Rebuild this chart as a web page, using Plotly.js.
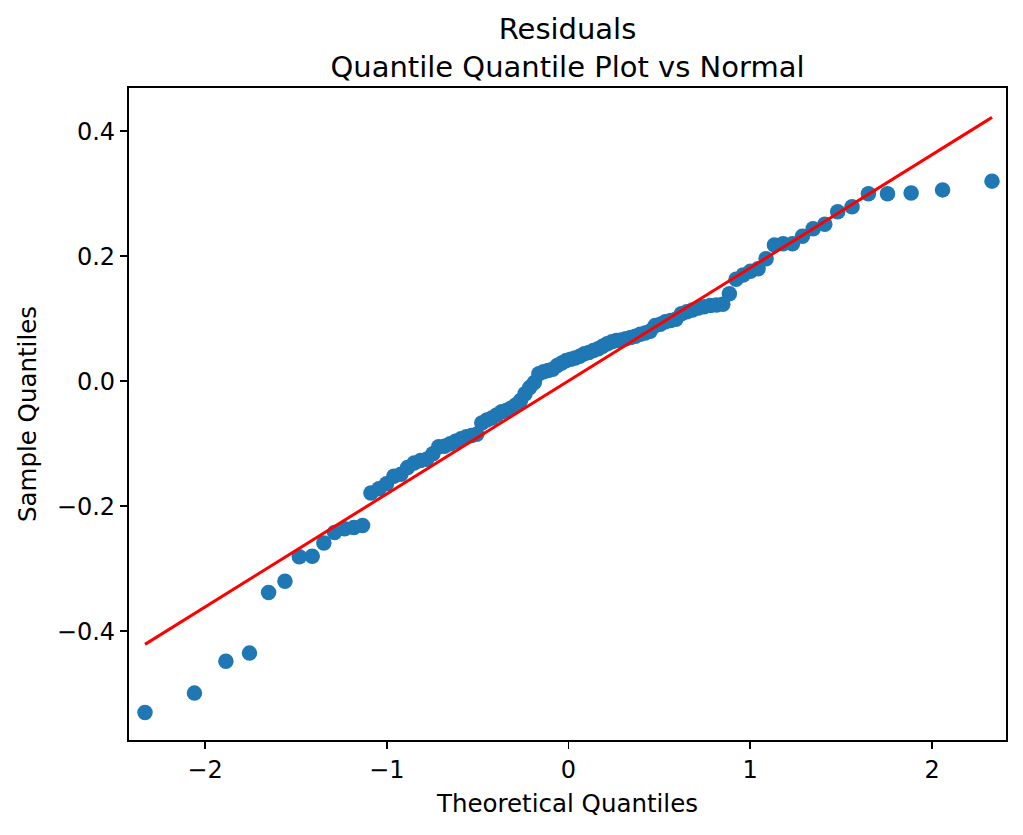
<!DOCTYPE html>
<html>
<head>
<meta charset="utf-8">
<script src="https://cdn.plot.ly/plotly-3.0.1.min.js"></script>
<style>
  html, body { margin: 0; padding: 0; background: #ffffff; }
  #chart { width: 1023px; height: 835px; }
</style>
</head>
<body>
<div id="chart"></div>
<script>
// Theoretical quantiles (n = 100)
const theoreticalQuantiles = [
  -2.330, -2.058, -1.885, -1.755, -1.650, -1.560, -1.481, -1.410, -1.346, -1.287,
  -1.232, -1.181, -1.133, -1.087, -1.043, -1.001, -0.961, -0.922, -0.885, -0.849,
  -0.814, -0.780, -0.746, -0.714, -0.682, -0.651, -0.621, -0.591, -0.562, -0.533,
  -0.505, -0.477, -0.449, -0.422, -0.395, -0.368, -0.342, -0.316, -0.290, -0.264,
  -0.239, -0.213, -0.188, -0.163, -0.137, -0.112, -0.087, -0.062, -0.037, -0.012,
   0.012,  0.037,  0.062,  0.087,  0.112,  0.137,  0.163,  0.188,  0.213,  0.239,
   0.264,  0.290,  0.316,  0.342,  0.368,  0.395,  0.422,  0.449,  0.477,  0.505,
   0.533,  0.562,  0.591,  0.621,  0.651,  0.682,  0.714,  0.746,  0.780,  0.814,
   0.849,  0.885,  0.922,  0.961,  1.001,  1.043,  1.087,  1.133,  1.181,  1.232,
   1.287,  1.346,  1.410,  1.481,  1.560,  1.650,  1.755,  1.885,  2.058,  2.330
];

// Sample quantiles (sorted residuals)
const sampleQuantiles = [
  -0.530, -0.499, -0.448, -0.435, -0.338, -0.320, -0.281, -0.280, -0.259, -0.242,
  -0.236, -0.234, -0.231, -0.179, -0.172, -0.164, -0.152, -0.149, -0.138, -0.131,
  -0.127, -0.125, -0.116, -0.105, -0.104, -0.100, -0.096, -0.092, -0.089, -0.087,
  -0.085, -0.067, -0.062, -0.059, -0.054, -0.049, -0.047, -0.043, -0.038, -0.031,
  -0.020, -0.010, -0.002,  0.012,  0.015,  0.017,  0.019,  0.025,  0.029,  0.033,
   0.035,  0.037,  0.040,  0.044,  0.046,  0.049,  0.052,  0.056,  0.060,  0.063,
   0.065,  0.066,  0.068,  0.070,  0.072,  0.075,  0.077,  0.080,  0.089,  0.091,
   0.095,  0.097,  0.099,  0.108,  0.111,  0.114,  0.117,  0.119,  0.121,  0.122,
   0.123,  0.140,  0.163,  0.170,  0.176,  0.180,  0.196,  0.218,  0.220,  0.220,
   0.232,  0.244,  0.251,  0.271,  0.279,  0.300,  0.300,  0.301,  0.306,  0.320
];

// Reference line endpoints
const lineX = [-2.330, 2.330];
const lineY = [-0.421, 0.422];

const xTicks = [-2, -1, 0, 1, 2];
const xTickLabels = ["\u22122", "\u22121", "0", "1", "2"];
const yTicks = [-0.4, -0.2, 0.0, 0.2, 0.4];
const yTickLabels = ["\u22120.4", "\u22120.2", "0.0", "0.2", "0.4"];

const font = "DejaVu Sans, sans-serif";

const traces = [
  {
    type: "scatter",
    mode: "markers",
    x: theoreticalQuantiles,
    y: sampleQuantiles,
    marker: { color: "#1f77b4", size: 15.5, line: { width: 0 } },
    showlegend: false,
    hoverinfo: "x+y"
  },
  {
    type: "scatter",
    mode: "lines",
    x: lineX,
    y: lineY,
    line: { color: "#ff0000", width: 3 },
    showlegend: false
  }
];

const axisCommon = {
  showgrid: false,
  zeroline: false,
  showline: true,
  linecolor: "#000000",
  linewidth: 1.6,
  mirror: true,
  ticks: "outside",
  ticklen: 7.5,
  tickwidth: 1.6,
  tickcolor: "#000000",
  tickfont: { family: font, size: 24, color: "#000000" },
  automargin: false
};

const layout = {
  width: 1023,
  height: 835,
  paper_bgcolor: "#ffffff",
  plot_bgcolor: "#ffffff",
  margin: { l: 129, r: 17, t: 88, b: 95 },
  title: {
    text: "Residuals<br>Quantile Quantile Plot vs Normal",
    font: { family: font, size: 29, color: "#000000" },
    x: 0.5,
    xref: "paper",
    xanchor: "center",
    y: 0.953,
    yref: "container",
    yanchor: "top"
  },
  xaxis: Object.assign({}, axisCommon, {
    range: [-2.418, 2.407],
    tickmode: "array",
    tickvals: xTicks,
    ticktext: xTickLabels,
    title: { text: "Theoretical Quantiles", font: { family: font, size: 24.5, color: "#000000" }, standoff: 12 }
  }),
  yaxis: Object.assign({}, axisCommon, {
    range: [-0.574, 0.469],
    tickmode: "array",
    tickvals: yTicks,
    ticktext: yTickLabels,
    title: { text: "Sample Quantiles", font: { family: font, size: 24.5, color: "#000000" }, standoff: 13 }
  })
};

Plotly.newPlot("chart", traces, layout, { displayModeBar: false, staticPlot: true });
</script>
</body>
</html>
